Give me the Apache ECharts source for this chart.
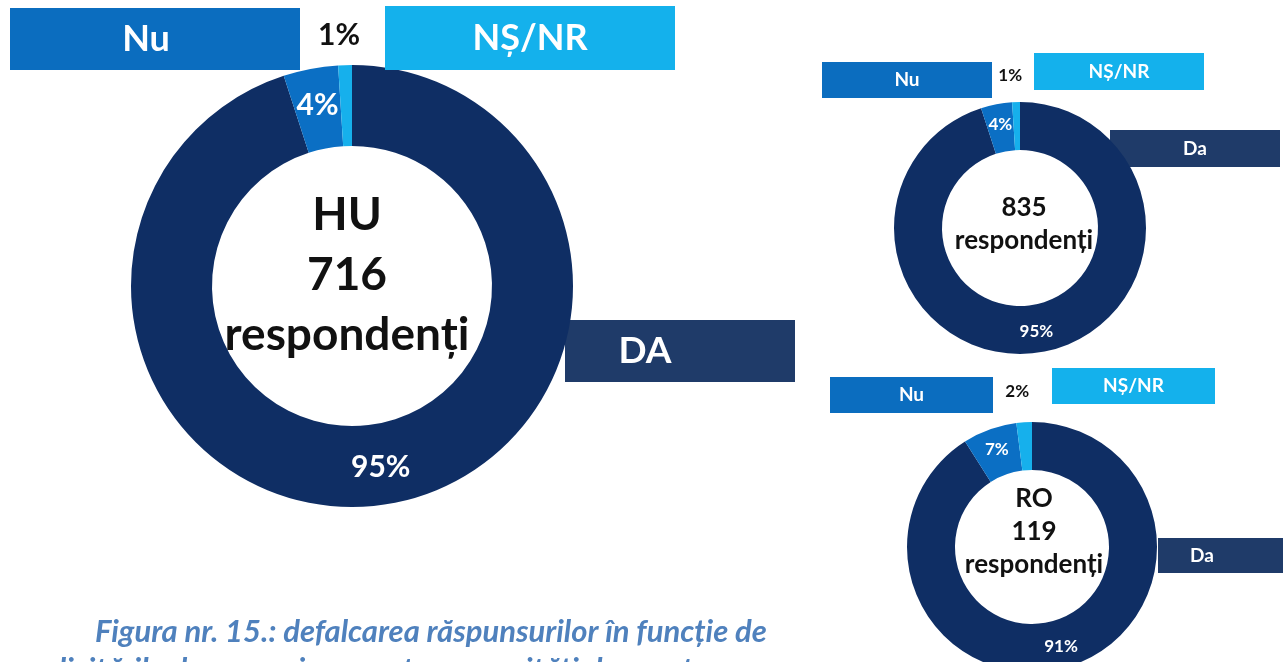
<!DOCTYPE html>
<html>
<head>
<meta charset="utf-8">
<script src="https://cdn.jsdelivr.net/npm/echarts@6/dist/echarts.min.js"></script>
<style>
  html, body { margin: 0; padding: 0; background: #fff; }
  #chart { width: 1283px; height: 662px; }
</style>
</head>
<body>
<div id="chart"></div>
<script>
// date: procente pe categorii
const categories = ['Da', 'Nu', 'NȘ/NR'];
const huValues = [95, 4, 1];
const totalValues = [95, 4, 1];
const roValues = [91, 7, 2];

// etichete din casete (DA mare doar la HU)
const huBoxLabels = ['DA', 'Nu', 'NȘ/NR'];
const smallBoxLabels = ['Da', 'Nu', 'NȘ/NR'];

const huCenterText = 'HU\n716\nrespondenți';
const totalCenterText = '835\nrespondenți';
const roCenterText = 'RO\n119\nrespondenți';

const captionLines = [
  'Figura nr. 15.: defalcarea răspunsurilor în funcție de',
  'solicitările de amenajare pentru capacități de acest gen'
];

const FONT = 'Lato, "Open Sans", sans-serif';
const sliceColors = ['#0f2e64', '#0b6fc4', '#16b0ec'];
const boxColors = ['#1f3b69', '#0b6dbf', '#14b1ec'];

/**
 * seria pie (inel)
 */
const donut = (values, center, radius, pctSize, outLen) => ({
  type: 'pie',
  center: center,
  radius: radius,
  startAngle: 90,
  clockwise: true,
  silent: true,
  animation: false,
  avoidLabelOverlap: false,
  data: values.map((v, i) => ({
    name: categories[i],
    value: v,
    itemStyle: { color: sliceColors[i] },
    label: i === 2
      ? { position: 'outside', color: '#111', fontSize: pctSize }
      : { position: 'inside' },
    labelLine: { show: false, length: outLen, length2: 0 }
  })),
  label: {
    formatter: '{c}%',
    color: '#fff',
    fontWeight: 'bold',
    fontFamily: FONT,
    fontSize: pctSize
  },
  labelLayout: (p) => (p.dataIndex === 2 ? { align: 'center', verticalAlign: 'middle' } : {})
})

/**
 * caseta cu text
 */
const box = (x, y, w, h, color, text, size, z, textX) => ([
  {
    type: 'rect',
    z: z,
    shape: { x: x, y: y, width: w, height: h },
    style: { fill: color }
  },
  {
    type: 'text',
    z: z + 1,
    x: textX != null ? textX : x + w / 2,
    y: y + h / 2,
    style: {
      text: text,
      fill: '#fff',
      font: 'bold ' + size + 'px ' + FONT,
      textAlign: 'center',
      textVerticalAlign: 'middle'
    }
  }
])

const centerLabel = (x, y, text, size, lh) => ({
  type: 'text',
  z: 20,
  x: x,
  y: y,
  style: {
    text: text,
    fill: '#111',
    font: 'bold ' + size + 'px ' + FONT,
    lineHeight: lh,
    textAlign: 'center',
    textVerticalAlign: 'middle'
  }
})

const chart = echarts.init(document.getElementById('chart'))

const option = {
  backgroundColor: '#fff',
  series: [
    donut(huValues, [352, 286], [140, 221], 30, 30),
    donut(totalValues, [1020, 228], [78, 126], 17, 27),
    donut(roValues, [1032, 547], [77, 125], 17, 31)
  ],
  graphic: [
    // HU
    ...box(565, 320, 230, 62, boxColors[0], huBoxLabels[0], 37, 0, 645),
    ...box(10, 8, 290, 62, boxColors[1], huBoxLabels[1], 36, 10, 146),
    ...box(385, 6, 290, 64, boxColors[2], huBoxLabels[2], 36, 10),
    centerLabel(347, 275, huCenterText, 46, 60),
    // total
    ...box(1110, 130, 170, 37, boxColors[0], smallBoxLabels[0], 19, 0),
    ...box(822, 62, 170, 36, boxColors[1], smallBoxLabels[1], 19, 10),
    ...box(1034, 53, 170, 37, boxColors[2], smallBoxLabels[2], 19, 10),
    centerLabel(1024, 224, totalCenterText, 26, 33),
    // RO
    ...box(1158, 538, 125, 35, boxColors[0], smallBoxLabels[0], 19, 0, 1202),
    ...box(830, 377, 163, 36, boxColors[1], smallBoxLabels[1], 19, 10),
    ...box(1052, 368, 163, 36, boxColors[2], smallBoxLabels[2], 19, 10),
    centerLabel(1034, 532, roCenterText, 26, 33),
    // legenda figurii
    {
      type: 'text',
      x: 95,
      y: 632,
      style: {
        text: captionLines[0],
        fill: '#4f81bd',
        font: 'italic bold 31px ' + FONT,
        textVerticalAlign: 'middle'
      }
    },
    {
      type: 'text',
      x: 30,
      y: 670,
      style: {
        text: captionLines[1],
        fill: '#4f81bd',
        font: 'italic bold 31px ' + FONT,
        textVerticalAlign: 'middle'
      }
    }
  ]
}

chart.setOption(option)
</script>
</body>
</html>
